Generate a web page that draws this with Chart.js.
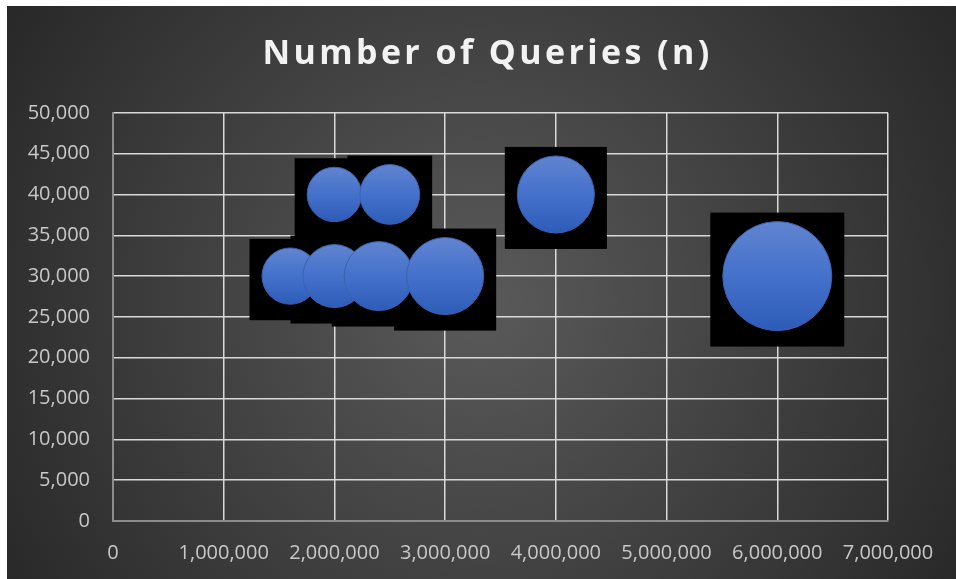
<!DOCTYPE html>
<html lang="en">
<head>
    <meta charset="UTF-8">
    <title>Number of Queries (n)</title>
    <script src="https://cdn.jsdelivr.net/npm/chart.js"></script>
    <style>
        body { margin: 0; background: #fff; }
        #wrap { position: absolute; left: 7px; top: 6px; width: 949px; height: 573px; }
    </style>
</head>
<body>
    <div id="wrap">
        <canvas id="queryChart" width="949" height="573"></canvas>
    </div>
    <script>
        // values
        const xValues = [1600000, 2000000, 2400000, 3000000, 2000000, 2500000, 4000000, 6000000];
        const yValues = [30000, 30000, 30000, 30000, 40000, 40000, 40000, 30000];
        const bubbleSizes = [1.6, 2.0, 2.4, 3.0, 1.5, 1.8, 3.0, 6.0];
        const xTicks = [0, 1000000, 2000000, 3000000, 4000000, 5000000, 6000000, 7000000];
        const yTicks = [0, 5000, 10000, 15000, 20000, 25000, 30000, 35000, 40000, 45000, 50000];

        const maxRadius = 54.5;
        const maxSize = Math.max(...bubbleSizes);
        const points = xValues.map((x, i) => ({
            x: x,
            y: yValues[i],
            r: maxRadius * Math.sqrt(bubbleSizes[i] / maxSize)
        }));

        const fmt = v => v.toLocaleString('en-US');

        const background = {
            id: 'background',
            beforeDraw(chart) {
                const { ctx, width, height } = chart;
                const g = ctx.createRadialGradient(width * 0.5, height * 0.52, 0, width * 0.5, height * 0.52, width * 0.6);
                g.addColorStop(0, '#5a5a5a');
                g.addColorStop(1, '#272727');
                ctx.save();
                ctx.fillStyle = g;
                ctx.fillRect(0, 0, width, height);
                ctx.restore();
            }
        };

        // spaced-out title, centred on the whole canvas
        const spacedTitle = {
            id: 'spacedTitle',
            beforeDraw(chart) {
                const tb = chart.titleBlock;
                if (!tb || tb._spaced) return;
                const orig = tb.draw.bind(tb);
                tb.draw = function () {
                    const c = chart.ctx;
                    c.save();
                    c.letterSpacing = '3.4px';
                    c.translate(chart.width / 2 - (tb.left + tb.right) / 2 + 6, 0);
                    orig();
                    c.restore();
                };
                tb._spaced = true;
            }
        };

        // the black square shadows behind each bubble
        const shadows = {
            id: 'shadows',
            beforeDatasetsDraw(chart) {
                const ctx = chart.ctx;
                ctx.save();
                ctx.fillStyle = '#000';
                chart.getDatasetMeta(0).data.forEach(el => {
                    const half = el.options.radius + 12.5;
                    ctx.fillRect(el.x - half, el.y - half + 3.5, half * 2, half * 2);
                });
                ctx.restore();
            }
        };

        function bubbleFill(context) {
            const chart = context.chart;
            const p = context.raw;
            if (!chart.chartArea || !p) return '#4472c4';
            const cy = chart.scales.y.getPixelForValue(p.y);
            const g = chart.ctx.createLinearGradient(0, cy - p.r, 0, cy + p.r);
            g.addColorStop(0, '#6184d0');
            g.addColorStop(0.5, '#4471cb');
            g.addColorStop(1, '#2d5cb8');
            return g;
        }

        const ctx = document.getElementById('queryChart').getContext('2d');
        new Chart(ctx, {
            type: 'bubble',
            data: {
                datasets: [{
                    label: 'Number of Queries (n)',
                    data: points,
                    backgroundColor: bubbleFill,
                    borderColor: '#3a62b0',
                    borderWidth: 1,
                    hoverRadius: 0
                }]
            },
            options: {
                responsive: false,
                animation: false,
                layout: { padding: { left: 0, right: 68, top: 0, bottom: 0 } },
                plugins: {
                    legend: { display: false },
                    tooltip: { enabled: false },
                    title: {
                        display: true,
                        text: 'Number of Queries (n)',
                        color: '#f2f2f2',
                        font: { family: 'Open Sans', size: 34, weight: 'bold' },
                        padding: { top: 28, bottom: 38 }
                    }
                },
                scales: {
                    x: {
                        type: 'linear',
                        min: 0,
                        max: 7000000,
                        afterBuildTicks: s => { s.ticks = xTicks.map(v => ({ value: v })); },
                        afterFit: s => { s.height = 58; },
                        grid: { color: '#d9d9d9', lineWidth: 1.5, drawTicks: false },
                        border: { color: '#8c8c8c', width: 2 },
                        ticks: {
                            color: '#c8c8c8',
                            padding: 20,
                            maxRotation: 0,
                            font: { family: 'Open Sans', size: 20 },
                            callback: v => fmt(v)
                        }
                    },
                    y: {
                        min: 0,
                        max: 50000,
                        afterBuildTicks: s => { s.ticks = yTicks.map(v => ({ value: v })); },
                        afterFit: s => { s.width = 106; },
                        grid: { color: '#d9d9d9', lineWidth: 1.5, drawTicks: false },
                        border: { color: '#8c8c8c', width: 2 },
                        ticks: {
                            color: '#c8c8c8',
                            padding: 23,
                            font: { family: 'Open Sans', size: 20 },
                            callback: v => fmt(v)
                        }
                    }
                }
            },
            plugins: [background, spacedTitle, shadows]
        });
    </script>
</body>
</html>
